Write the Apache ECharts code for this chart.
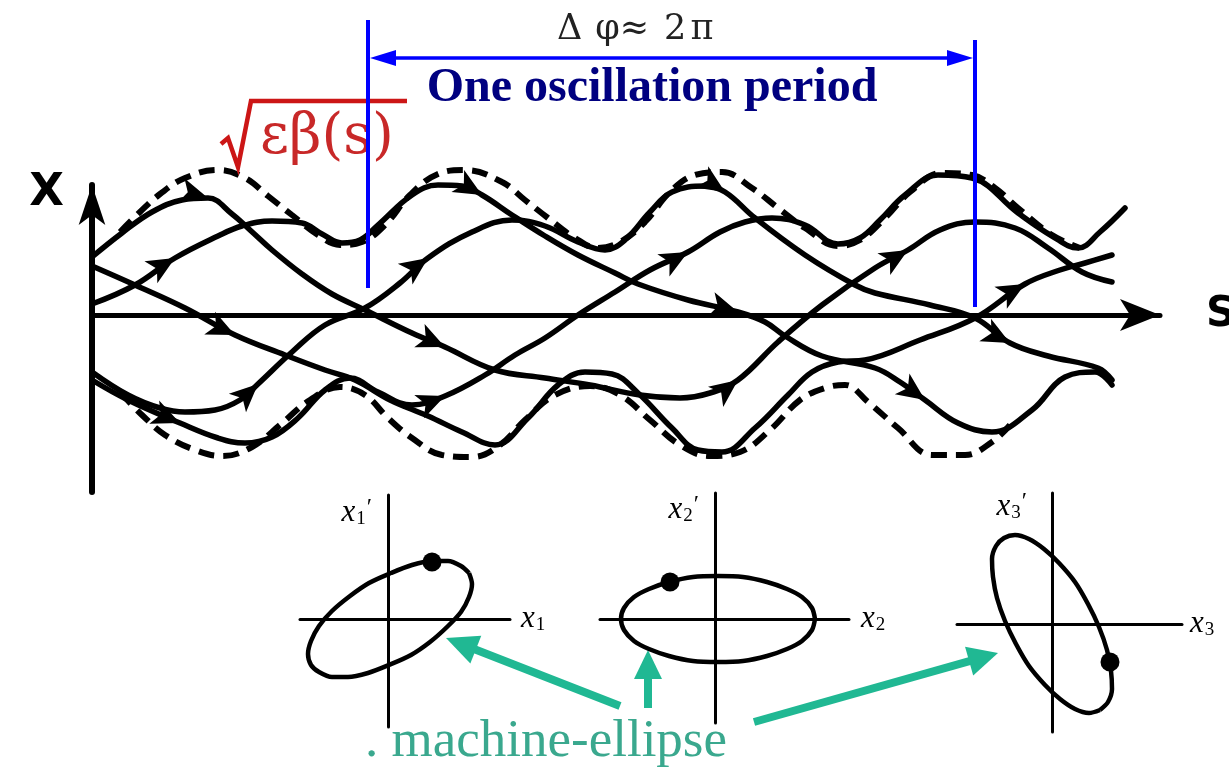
<!DOCTYPE html>
<html><head><meta charset="utf-8">
<script src="https://cdn.jsdelivr.net/npm/echarts@6/dist/echarts.min.js"></script>
<style>html,body{margin:0;padding:0;background:#fff}#c{width:1229px;height:779px}</style>
</head><body><div id="c"></div>
<script>
// ---- main plot data: s along beam line, x = transverse displacement ----
const envUpper = [[28,83],[48,103],[68,121],[93,137],[126,145],[153,137],[176,119],[200,100],[226,80],[248,70],[270,73],[293,90],[318,120],[346,141],[373,145],[410,133],[433,115],[456,97],[483,77],[506,67],[528,73],[553,93],[578,123],[603,140],[630,143],[660,127],[686,107],[713,87],[746,69],[768,75],[793,97],[818,123],[850,142],[880,140],[903,127],[926,107],[960,80],[988,67]];
const envLower = [[28,-77],[50,-100],[73,-120],[103,-135],[130,-141],[160,-132],[188,-110],[218,-85],[248,-72],[273,-80],[296,-103],[320,-123],[350,-140],[380,-142],[408,-130],[433,-105],[463,-80],[498,-71],[528,-80],[558,-105],[588,-130],[618,-141],[648,-137],[678,-115],[708,-85],[733,-73],[753,-70],[776,-87],[806,-113],[840,-140],[873,-140],[900,-127],[918,-110]];
const traj1 = [[0,58],[30,82],[60,103],[90,115],[116,117],[140,101],[158,85],[180,65],[210,41],[240,21],[273,5],[320,-18],[353,-32],[403,-55],[453,-63],[498,-70],[548,-80],[588,-83],[618,-78],[646,-65],[686,-27],[730,10],[783,47],[816,65],[848,85],[883,93],[923,87],[956,67],[990,43],[1020,33]];
const traj2 = [[0,49],[43,30],[93,7],[143,-20],[193,-40],[233,-55],[263,-65],[298,-85],[336,-101],[370,-117],[403,-130],[436,-103],[466,-70],[493,-57],[520,-59],[546,-78],[580,-113],[606,-135],[630,-137],[663,-113],[696,-80],[720,-57],[746,-47],[773,-45],[828,-25],[883,-3],[933,31],[968,45],[993,52],[1020,60]];
const traj3 = [[0,11],[43,30],[83,57],[126,79],[150,89],[180,94],[210,92],[230,81],[250,72],[268,75],[286,90],[320,120],[346,130],[370,129],[390,120],[420,100],[453,79],[486,60],[523,42],[546,31],[596,15],[646,3],[673,-7],[693,-21],[730,-41],[783,-53],[808,-67],[833,-85],[866,-108],[900,-117],[940,-95],[973,-62],[1003,-57],[1020,-70]];
const traj4 = [[0,-57],[36,-80],[68,-93],[93,-97],[123,-95],[148,-85],[166,-69],[200,-37],[233,-10],[273,7],[308,32],[336,57],[380,83],[420,95],[453,89],[486,73],[513,65],[533,75],[558,103],[580,123],[613,129],[633,123],[663,97],[713,60],[763,30],[783,22],[838,10],[883,-3],[918,-28],[956,-41],[1006,-53],[1020,-65]];
const traj5 = [[0,-65],[36,-85],[88,-108],[126,-123],[153,-128],[180,-122],[206,-103],[233,-75],[258,-63],[286,-77],[320,-90],[353,-81],[393,-60],[423,-40],[453,-23],[486,0],[523,23],[558,45],[596,63],[628,83],[653,93],[680,97],[713,90],[746,71],[768,77],[788,95],[813,120],[846,140],[880,137],[926,102],[960,79],[986,67],[1008,83],[1033,107]];
// indices of points that carry a direction arrow
const arrowIdx1 = [4,12,19,23];
const arrowIdx2 = [3,26];
const arrowIdx3 = [2,14,21,27];
const arrowIdx4 = [6,11,21,28];
const arrowIdx5 = [2,11,18];
// one oscillation period: zero crossings
const periodS = [276, 883];

// ---- phase-space ellipses (x, x') ----
const ellipse1 = [[81,46],[73,53],[60,58],[44,58],[24,54],[3,46],[-19,36],[-38,23],[-56,8],[-69,-7],[-77,-22],[-80,-35],[-77,-46],[-69,-53],[-56,-58],[-40,-58],[-20,-54],[1,-46],[23,-36],[42,-23],[59,-8],[73,7],[81,22],[84,35],[81,46]];
const ellipse2 = [[100,0],[97,11],[87,22],[72,30],[52,37],[28,42],[3,43],[-22,42],[-46,37],[-66,30],[-81,22],[-91,11],[-94,0],[-91,-11],[-81,-22],[-66,-30],[-46,-37],[-22,-42],[3,-43],[28,-42],[52,-37],[72,-30],[87,-22],[97,-11],[100,0]];
const ellipse3 = [[48,-86],[56,-78],[60,-65],[59,-47],[55,-26],[47,-3],[36,20],[23,42],[7,61],[-8,75],[-23,85],[-37,89],[-48,86],[-56,78],[-60,65],[-59,47],[-55,26],[-47,3],[-36,-20],[-23,-42],[-7,-61],[8,-75],[23,-85],[37,-89],[48,-86]];
const dot1 = [44,57];
const dot2 = [-45,37];
const dot3 = [58,-38];

const chart = echarts.init(document.getElementById('c'));

const hid = {axisTick:{show:false}, axisLabel:{show:false}, splitLine:{show:false}};
const subRich = {
  i:{fontFamily:'Liberation Serif', fontStyle:'italic', fontSize:31, color:'#000'},
  s:{fontFamily:'Liberation Serif', fontSize:19, color:'#000', padding:[12,0,0,1]},
  p:{fontFamily:'Liberation Serif', fontSize:24, color:'#000', padding:[0,0,10,1]}
};
function smallX(idx, min, max, label, gap){
  return Object.assign({type:'value', gridIndex:idx, min:min, max:max,
    axisLine:{show:true, onZero:true, lineStyle:{color:'#000', width:3}},
    name:label, nameLocation:'end', nameGap:gap,
    nameTextStyle:{rich:subRich, align:'left', verticalAlign:'middle'}}, hid);
}
function smallY(idx, min, max, label, gap, padR){
  return Object.assign({type:'value', gridIndex:idx, min:min, max:max,
    axisLine:{show:true, onZero:true, lineStyle:{color:'#000', width:3}},
    name:label, nameLocation:'end', nameGap:gap,
    nameTextStyle:{rich:subRich, align:'right', verticalAlign:'middle', padding:[0,padR,0,0]}}, hid);
}
const trajs = [traj1, traj2, traj3, traj4, traj5];
const arrowIdx = [arrowIdx1, arrowIdx2, arrowIdx3, arrowIdx4, arrowIdx5];

function trajSeries(d){
  return {type:'line', xAxisIndex:0, yAxisIndex:0, data:d, smooth:0.4, symbol:'none', clip:false, z:3,
    lineStyle:{color:'#000', width:5.5, cap:'round', join:'round'}};
}
function envSeries(d){
  return {type:'line', xAxisIndex:0, yAxisIndex:0, data:d, smooth:0.4, symbol:'none', clip:false, z:2,
    lineStyle:{color:'#000', width:6, type:[16,9]}};
}
function ellSeries(i, d){
  return {type:'line', xAxisIndex:i, yAxisIndex:i, data:d, smooth:0.3, symbol:'none', clip:false, z:3,
    lineStyle:{color:'#000', width:4.5, join:'round'}};
}
function dotSeries(i, d){
  return {type:'scatter', xAxisIndex:i, yAxisIndex:i, data:[d], symbol:'circle', symbolSize:19, clip:false, z:4,
    itemStyle:{color:'#000', opacity:1}};
}

const option = {
  animation:false,
  backgroundColor:'#fff',
  grid:[
    {left:92, top:185, width:1068, height:307, outerBoundsMode:'none'},
    {left:300, top:495, width:210, height:232, outerBoundsMode:'none'},
    {left:600, top:493, width:249, height:230, outerBoundsMode:'none'},
    {left:957, top:493, width:225, height:239, outerBoundsMode:'none'}
  ],
  xAxis:[
    Object.assign({type:'value', gridIndex:0, min:0, max:1068,
      axisLine:{show:true, onZero:true, symbol:['none','arrow'], symbolSize:[24,40], lineStyle:{color:'#000', width:5}},
      name:'S', nameLocation:'end', nameGap:46,
      nameTextStyle:{fontSize:42, fontWeight:'bold', fontFamily:'DejaVu Sans', color:'#000', align:'left', verticalAlign:'middle'}}, hid),
    smallX(1, -88, 122, '{i|x}{s|1}', 11),
    smallX(2, -115, 134, '{i|x}{s|2}', 12),
    smallX(3, -95, 130, '{i|x}{s|3}', 8)
  ],
  yAxis:[
    Object.assign({type:'value', gridIndex:0, min:-177, max:130,
      axisLine:{show:true, onZero:true, symbol:['none','arrow'], symbolSize:[20,40], lineStyle:{color:'#000', width:6}},
      name:'X', nameLocation:'end', nameGap:-8,
      nameTextStyle:{fontSize:45, fontWeight:'bold', fontFamily:'DejaVu Sans', color:'#000', align:'right', verticalAlign:'middle', padding:[0,28,0,0]}}, hid),
    smallY(1, -108, 124, '{i|x}{s|1}{p|′}', -18, 16),
    smallY(2, -104, 126, '{i|x}{s|2}{p|′}', -17, 16),
    smallY(3, -108, 131, '{i|x}{s|3}{p|′}', -14, 25)
  ],
  series:[
    envSeries(envUpper), envSeries(envLower),
    trajSeries(traj1), trajSeries(traj2), trajSeries(traj3), trajSeries(traj4), trajSeries(traj5),
    {id:'arrows', type:'scatter', xAxisIndex:0, yAxisIndex:0, data:[], symbol:'arrow', symbolSize:[19,28], clip:false, z:5, itemStyle:{color:'#000', opacity:1}},
    ellSeries(1, ellipse1), ellSeries(2, ellipse2), ellSeries(3, ellipse3),
    dotSeries(1, dot1), dotSeries(2, dot2), dotSeries(3, dot3)
  ]
};
chart.setOption(option);

// arrow directions from neighbouring points through the axis scales
const arrowData = [];
trajs.forEach(function(t, ti){
  arrowIdx[ti].forEach(function(i){
    const a = chart.convertToPixel({gridIndex:0}, t[i-1]);
    const b = chart.convertToPixel({gridIndex:0}, t[i+1]);
    const ang = Math.atan2(-(b[1]-a[1]), b[0]-a[0]) * 180 / Math.PI;
    arrowData.push({value:t[i], symbolRotate:ang - 90});
  });
});

// period markers (blue)
const pA = chart.convertToPixel({gridIndex:0}, [periodS[0], 295]);
const pAb = chart.convertToPixel({gridIndex:0}, [periodS[0], 27]);
const pB = chart.convertToPixel({gridIndex:0}, [periodS[1], 275]);
const pBb = chart.convertToPixel({gridIndex:0}, [periodS[1], 8]);
const yArr = chart.convertToPixel({gridIndex:0}, [0, 257])[1];
const blue = '#0000ff';
const xa = pA[0] + 2, xb = pB[0] - 2;

const teal = '#20b893';
function tealArrow(tail, tip, len, half){
  const dx = tip[0]-tail[0], dy = tip[1]-tail[1];
  const L = Math.sqrt(dx*dx+dy*dy), ux = dx/L, uy = dy/L;
  const bx = tip[0]-ux*len, by = tip[1]-uy*len;
  return [
    {type:'polyline', shape:{points:[tail,[bx+ux*4, by+uy*4]]}, style:{stroke:teal, lineWidth:8, fill:null}},
    {type:'polygon', shape:{points:[tip,[bx-uy*half, by+ux*half],[bx+uy*half, by-ux*half]]}, style:{fill:teal}}
  ];
}
const dSty = {fontFamily:'DejaVu Serif', fontSize:35, fill:'#222'};

const graphic = [
  {type:'line', shape:{x1:pA[0], y1:pA[1], x2:pAb[0], y2:pAb[1]}, style:{stroke:blue, lineWidth:4}, z:10},
  {type:'line', shape:{x1:pB[0], y1:pB[1], x2:pBb[0], y2:pBb[1]}, style:{stroke:blue, lineWidth:4}, z:10},
  {type:'line', shape:{x1:xa+20, y1:yArr, x2:xb-20, y2:yArr}, style:{stroke:blue, lineWidth:3.5}, z:10},
  {type:'polygon', shape:{points:[[xa,yArr],[xa+26,yArr-8],[xa+26,yArr+8]]}, style:{fill:blue}, z:10},
  {type:'polygon', shape:{points:[[xb,yArr],[xb-26,yArr-8],[xb-26,yArr+8]]}, style:{fill:blue}, z:10},
  {type:'text', x:557, y:30, z:10, style:{
    text:'{a|Δ}{b|φ}{c|≈}{d|2}{e|π}', align:'left', verticalAlign:'middle',
    rich:{
      a:Object.assign({padding:[0,13,0,0]}, dSty),
      b:Object.assign({padding:[0,0,0,0]}, dSty),
      c:Object.assign({padding:[0,15,0,0]}, dSty),
      d:Object.assign({padding:[0,4,0,0]}, dSty),
      e:Object.assign({}, dSty)
    }}},
  {type:'text', x:652, y:89, z:10, style:{text:'One oscillation period', fontFamily:'Liberation Serif', fontWeight:'bold', fontSize:48, fill:'#000080', align:'center', verticalAlign:'middle'}},
  {type:'polyline', z:9, shape:{points:[[221,144],[228,138],[238,167],[251,101],[407,101]]}, style:{stroke:'#cc1616', lineWidth:4.5, fill:null, lineJoin:'miter'}},
  {type:'text', x:327, y:138, z:9, style:{text:'εβ(s)', fontFamily:'DejaVu Serif', fontSize:56, fill:'#c82828', align:'center', verticalAlign:'middle'}},
  {type:'text', x:365, y:742, z:10, style:{text:'. machine-ellipse', fontFamily:'Liberation Serif', fontSize:53, fill:'#3aa88e', align:'left', verticalAlign:'middle'}}
].concat(tealArrow([620,706],[446,638],32,15), tealArrow([648,708],[648,650],29,14), tealArrow([754,722],[998,653],30,15));

chart.setOption({series:[{id:'arrows', data:arrowData}], graphic:graphic});
</script>
</body></html>
